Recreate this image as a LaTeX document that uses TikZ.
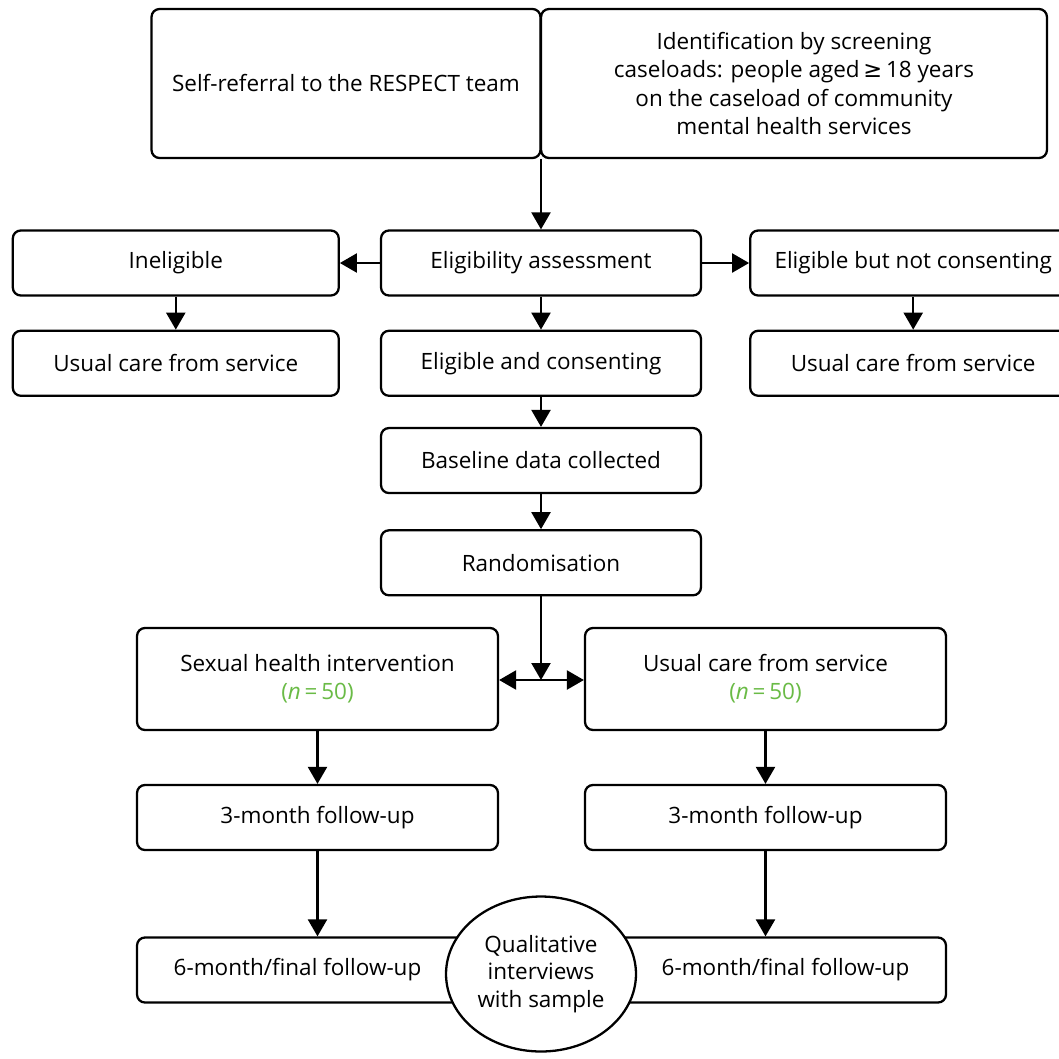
\documentclass[tikz,border=0pt]{standalone}
\usepackage{fontspec}
\setmainfont{Open Sans}
\newfontfamily\symfont{DejaVu Sans}
\definecolor{ngreen}{RGB}{106, 187, 70}
\usepackage{tikz}
\usetikzlibrary{shapes.geometric, arrows.meta, positioning}

\begin{document}
\begin{tikzpicture}[
        x=0.02cm, y=-0.02cm,
        node distance=0.66cm,
        box/.style={rectangle, rounded corners=4.5pt, draw=black, fill=white,
                    line width=1.3pt, minimum width=6.4cm, minimum height=1.3cm,
                    align=center, inner sep=2pt, font=\fontsize{12.8}{16}\selectfont},
        oval/.style={ellipse, draw=black, fill=white, line width=1.3pt,
                     minimum width=3.8cm, minimum height=3.1cm, inner sep=0pt,
                     align=center, font=\fontsize{12.8}{15.6}\selectfont},
        arrow/.style={-{Triangle[length=0.34cm, width=0.38cm]}, line width=1.3pt},
        both/.style={{Triangle[length=0.34cm, width=0.38cm]}-{Triangle[length=0.34cm, width=0.38cm]}, line width=1.3pt}
      ]
        \useasboundingbox (0,0) rectangle (1059,1059);
        % referral routes
        \node[box, minimum width=7.78cm, minimum height=2.98cm] (selfref) at (346,83.5) {Self-referral to the RESPECT team};
        \node[box, minimum width=10.12cm, minimum height=2.98cm] (ident) at (794,83.5)
          {Identification by screening\\ caseloads: people aged{\symfont\,≥\,}18 years\\ on the caseload of community\\ mental health services};
        % eligibility
        \node[box] (elig) at (541,263) {Eligibility assessment};
        \node[box, minimum width=6.52cm, left=0.8cm of elig] (inelig) {Ineligible};
        \node[box, minimum width=6.52cm, right=0.94cm of elig] (notcons) {Eligible but not consenting};
        \node[box, below=of elig] (cons) {Eligible and consenting};
        \node[box, minimum width=6.52cm, below=of inelig] (usual1) {Usual care from service};
        \node[box, minimum width=6.52cm, below=of notcons] (usual2) {Usual care from service};
        \node[box, below=0.6cm of cons] (base) {Baseline data collected};
        \node[box, below=0.7cm of base] (rand) {Randomisation};
        % trial arms
        \node[box, minimum width=7.22cm, minimum height=2.04cm] (interv) at (317.5,679)
          {Sexual health intervention\\ \textcolor{ngreen}{(\textit{n}\,=\,50)}};
        \node[box, minimum width=7.22cm, minimum height=2.04cm] (usual3) at (765.5,679)
          {Usual care from service\\ \textcolor{ngreen}{(\textit{n}\,=\,50)}};
        \node[box, minimum width=7.22cm] (fu3a) at (317.5,817.5) {3-month follow-up};
        \node[box, minimum width=7.22cm] (fu3b) at (765.5,817.5) {3-month follow-up};
        \node[box, minimum width=7.22cm] (fu6a) at (317.5,970) {6-month/final follow-up\hspace*{0.8cm}};
        \node[box, minimum width=7.22cm] (fu6b) at (765.5,970) {\hspace*{0.8cm}6-month/final follow-up};
        \node[oval] (qual) at (541,974) {Qualitative\\ interviews\\ with sample};
        \coordinate (split) at (541,680);
        \draw[arrow] (elig.north |- selfref.south) -- (elig.north);
        \draw[arrow] (elig) -- (inelig);
        \draw[arrow] (elig) -- (notcons);
        \draw[arrow] (inelig) -- (usual1);
        \draw[arrow] (elig) -- (cons);
        \draw[arrow] (notcons) -- (usual2);
        \draw[arrow] (cons) -- (base);
        \draw[arrow] (base) -- (rand);
        \draw[arrow] (rand) -- (split);
        \draw[both] (interv.east |- split) -- (usual3.west |- split);
        \draw[arrow] (interv) -- (fu3a);
        \draw[arrow] (usual3) -- (fu3b);
        \draw[arrow] (fu3a) -- (fu6a);
        \draw[arrow] (fu3b) -- (fu6b);
      \end{tikzpicture}
\end{document}
